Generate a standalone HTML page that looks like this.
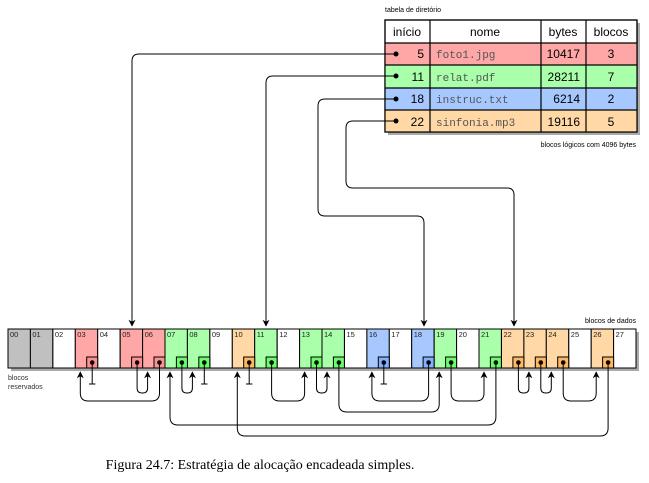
<!DOCTYPE html>
<html><head><meta charset="utf-8"><style>
html,body{margin:0;padding:0;background:#fff;}
svg{display:block;font-family:"Liberation Sans",sans-serif;}
</style></head><body>
<svg width="649" height="483" viewBox="0 0 649 483" xmlns="http://www.w3.org/2000/svg">
<defs>
<marker id="ah" viewBox="0 0 10 10" refX="9" refY="5" markerWidth="7" markerHeight="7" orient="auto" markerUnits="userSpaceOnUse">
<path d="M0,0 L10,5 L0,10 L3,5 Z" fill="#000"/>
</marker>
</defs>

<text x="385" y="12" font-size="7">tabela de diretório</text>
<rect x="388" y="23" width="252" height="112" fill="#aaa"/>
<rect x="385" y="20" width="252" height="112" fill="#fff" stroke="#000" stroke-width="1.2"/>
<rect x="385" y="43" width="252" height="22" fill="#ffa6a6"/>
<rect x="385" y="65" width="252" height="23" fill="#aaffaa"/>
<rect x="385" y="88" width="252" height="22" fill="#a6c8ff"/>
<rect x="385" y="110" width="252" height="22" fill="#ffd8a6"/>
<g stroke="#000" stroke-width="1.2" fill="none">
<rect x="385" y="20" width="252" height="112"/>
<line x1="385" y1="43" x2="637" y2="43"/>
<line x1="385" y1="65" x2="637" y2="65"/>
<line x1="385" y1="88" x2="637" y2="88"/>
<line x1="385" y1="110" x2="637" y2="110"/>
<line x1="430" y1="20" x2="430" y2="132"/>
<line x1="541" y1="20" x2="541" y2="132"/>
<line x1="586" y1="20" x2="586" y2="132"/>
</g>
<g font-size="12" text-anchor="middle">
<text x="407" y="36">início</text>
<text x="485" y="36">nome</text>
<text x="563" y="36">bytes</text>
<text x="611" y="36">blocos</text>
</g>
<g font-size="12" text-anchor="end">
<text x="424" y="58">5</text>
<text x="424" y="81">11</text>
<text x="424" y="103">18</text>
<text x="424" y="126">22</text>
<text x="580" y="58">10417</text>
<text x="580" y="81">28211</text>
<text x="580" y="103">6214</text>
<text x="580" y="126">19116</text>
</g>
<g font-size="12" text-anchor="middle">
<text x="611" y="58">3</text>
<text x="611" y="81">7</text>
<text x="611" y="103">2</text>
<text x="611" y="126">5</text>
</g>
<g font-size="11" font-family="Liberation Mono,monospace" fill="#555">
<text x="436" y="58">foto1.jpg</text>
<text x="436" y="81">relat.pdf</text>
<text x="436" y="103">instruc.txt</text>
<text x="436" y="126">sinfonia.mp3</text>
</g>
<text x="636" y="147" font-size="7" text-anchor="end">blocos lógicos com 4096 bytes</text>

<g fill="#000">
<circle cx="396" cy="54" r="2.5"/><circle cx="396" cy="76" r="2.5"/><circle cx="396" cy="99" r="2.5"/><circle cx="396" cy="121" r="2.5"/>
</g>
<g stroke="#000" stroke-width="1" fill="none" marker-end="url(#ah)">
<path d="M396,54 H139 Q132,54 132,61 V326"/>
<path d="M396,76 H273 Q266,76 266,83 V326"/>
<path d="M396,99 H325 Q318,99 318,106 V209 Q318,216 325,216 H417 Q424,216 424,223 V326"/>
<path d="M396,121 H353 Q346,121 346,128 V181 Q346,188 353,188 H507 Q514,188 514,195 V326"/>
</g>

<text x="636" y="323" font-size="7" text-anchor="end">blocos de dados</text>
<rect x="11" y="332" width="628" height="39" fill="#aaa"/>
<g stroke="#000" stroke-width="1">
<rect x="8" y="329" width="628" height="39" fill="#fff"/>
<rect x="8" y="329" width="22.4" height="39" fill="#c0c0c0"/>
<rect x="30.4" y="329" width="22.4" height="39" fill="#c0c0c0"/>
<rect x="52.9" y="329" width="22.4" height="39" fill="#fff"/>
<rect x="75.3" y="329" width="22.4" height="39" fill="#ffa6a6"/>
<rect x="97.7" y="329" width="22.4" height="39" fill="#fff"/>
<rect x="120.2" y="329" width="22.4" height="39" fill="#ffa6a6"/>
<rect x="142.6" y="329" width="22.4" height="39" fill="#ffa6a6"/>
<rect x="165" y="329" width="22.4" height="39" fill="#aaffaa"/>
<rect x="187.4" y="329" width="22.4" height="39" fill="#aaffaa"/>
<rect x="209.9" y="329" width="22.4" height="39" fill="#fff"/>
<rect x="232.3" y="329" width="22.4" height="39" fill="#ffd8a6"/>
<rect x="254.7" y="329" width="22.4" height="39" fill="#aaffaa"/>
<rect x="277.2" y="329" width="22.4" height="39" fill="#fff"/>
<rect x="299.6" y="329" width="22.4" height="39" fill="#aaffaa"/>
<rect x="322" y="329" width="22.4" height="39" fill="#aaffaa"/>
<rect x="344.5" y="329" width="22.4" height="39" fill="#fff"/>
<rect x="366.9" y="329" width="22.4" height="39" fill="#a6c8ff"/>
<rect x="389.3" y="329" width="22.4" height="39" fill="#fff"/>
<rect x="411.7" y="329" width="22.4" height="39" fill="#a6c8ff"/>
<rect x="434.2" y="329" width="22.4" height="39" fill="#aaffaa"/>
<rect x="456.6" y="329" width="22.4" height="39" fill="#fff"/>
<rect x="479" y="329" width="22.4" height="39" fill="#aaffaa"/>
<rect x="501.5" y="329" width="22.4" height="39" fill="#ffd8a6"/>
<rect x="523.9" y="329" width="22.4" height="39" fill="#ffd8a6"/>
<rect x="546.3" y="329" width="22.4" height="39" fill="#ffd8a6"/>
<rect x="568.8" y="329" width="22.4" height="39" fill="#fff"/>
<rect x="591.2" y="329" width="22.4" height="39" fill="#ffd8a6"/>
<rect x="613.6" y="329" width="22.4" height="39" fill="#fff"/>
</g>
<g font-size="7.5" fill="#222">
<text x="10" y="337">00</text><text x="32.4" y="337">01</text><text x="54.9" y="337">02</text><text x="77.3" y="337">03</text><text x="99.7" y="337">04</text><text x="122.2" y="337">05</text><text x="144.6" y="337">06</text><text x="167" y="337">07</text><text x="189.4" y="337">08</text><text x="211.9" y="337">09</text><text x="234.3" y="337">10</text><text x="256.7" y="337">11</text><text x="279.2" y="337">12</text><text x="301.6" y="337">13</text><text x="324" y="337">14</text><text x="346.5" y="337">15</text><text x="368.9" y="337">16</text><text x="391.3" y="337">17</text><text x="413.7" y="337">18</text><text x="436.2" y="337">19</text><text x="458.6" y="337">20</text><text x="481" y="337">21</text><text x="503.5" y="337">22</text><text x="525.9" y="337">23</text><text x="548.3" y="337">24</text><text x="570.8" y="337">25</text><text x="593.2" y="337">26</text><text x="615.6" y="337">27</text>
</g>
<g stroke="#000" stroke-width="1">
<rect x="86.7" y="357" width="11" height="11" fill="#ff9090"/>
<rect x="131.6" y="357" width="11" height="11" fill="#ff9090"/>
<rect x="154" y="357" width="11" height="11" fill="#ff9090"/>
<rect x="176.4" y="357" width="11" height="11" fill="#66ff66"/>
<rect x="198.8" y="357" width="11" height="11" fill="#66ff66"/>
<rect x="243.7" y="357" width="11" height="11" fill="#ffb860"/>
<rect x="266.1" y="357" width="11" height="11" fill="#66ff66"/>
<rect x="311" y="357" width="11" height="11" fill="#66ff66"/>
<rect x="333.4" y="357" width="11" height="11" fill="#66ff66"/>
<rect x="378.3" y="357" width="11" height="11" fill="#80b0ff"/>
<rect x="423.1" y="357" width="11" height="11" fill="#80b0ff"/>
<rect x="445.6" y="357" width="11" height="11" fill="#66ff66"/>
<rect x="490.4" y="357" width="11" height="11" fill="#66ff66"/>
<rect x="512.9" y="357" width="11" height="11" fill="#ffb860"/>
<rect x="535.3" y="357" width="11" height="11" fill="#ffb860"/>
<rect x="557.7" y="357" width="11" height="11" fill="#ffb860"/>
<rect x="602.6" y="357" width="11" height="11" fill="#ffb860"/>
</g>
<g fill="#000">
<circle cx="92.2" cy="362.5" r="2.3"/><circle cx="137.1" cy="362.5" r="2.3"/><circle cx="159.5" cy="362.5" r="2.3"/><circle cx="181.9" cy="362.5" r="2.3"/><circle cx="204.3" cy="362.5" r="2.3"/><circle cx="249.2" cy="362.5" r="2.3"/><circle cx="271.6" cy="362.5" r="2.3"/><circle cx="316.5" cy="362.5" r="2.3"/><circle cx="338.9" cy="362.5" r="2.3"/><circle cx="383.8" cy="362.5" r="2.3"/><circle cx="428.6" cy="362.5" r="2.3"/><circle cx="451.1" cy="362.5" r="2.3"/><circle cx="495.9" cy="362.5" r="2.3"/><circle cx="518.4" cy="362.5" r="2.3"/><circle cx="540.8" cy="362.5" r="2.3"/><circle cx="563.2" cy="362.5" r="2.3"/><circle cx="608.1" cy="362.5" r="2.3"/>
</g>
<g stroke="#000" stroke-width="1">
<path d="M92.2,362 V384 M89,384 H95.4"/>
<path d="M204.3,362 V384 M201.1,384 H207.5"/>
<path d="M249.2,362 V384 M246,384 H252.4"/>
<path d="M383.8,362 V384 M380.6,384 H387"/>
</g>
<text x="8" y="380" font-size="7" fill="#333">blocos</text>
<text x="8" y="389" font-size="7" fill="#333">reservados</text>

<g stroke="#000" stroke-width="1" fill="none" marker-end="url(#ah)">
<path d="M137.1,362 V388 Q137.1,393 142.1,393 H142.6 Q147.6,393 147.6,388 V372"/>
<path d="M159.5,362 V393 Q159.5,401 151.5,401 H88.3 Q80.3,401 80.3,393 V372"/>
<path d="M181.9,362 V388 Q181.9,393 186.9,393 H187.4 Q192.4,393 192.4,388 V372"/>
<path d="M271.6,362 V393 Q271.6,401 279.6,401 H296.6 Q304.6,401 304.6,393 V372"/>
<path d="M316.5,362 V388 Q316.5,393 321.5,393 H322 Q327,393 327,388 V372"/>
<path d="M338.9,362 V404 Q338.9,412 346.9,412 H431.2 Q439.2,412 439.2,404 V372"/>
<path d="M428.6,362 V393 Q428.6,401 420.6,401 H379.9 Q371.9,401 371.9,393 V372"/>
<path d="M451.1,362 V393 Q451.1,401 459.1,401 H476 Q484,401 484,393 V372"/>
<path d="M495.9,362 V417 Q495.9,425 487.9,425 H178 Q170,425 170,417 V372"/>
<path d="M518.4,362 V388 Q518.4,393 523.4,393 H523.9 Q528.9,393 528.9,388 V372"/>
<path d="M540.8,362 V388 Q540.8,393 545.8,393 H546.3 Q551.3,393 551.3,388 V372"/>
<path d="M563.2,362 V393 Q563.2,401 571.2,401 H588.2 Q596.2,401 596.2,393 V372"/>
<path d="M608.1,362 V428 Q608.1,436 600.1,436 H245.3 Q237.3,436 237.3,428 V372"/>
</g>

<text x="260" y="469" font-size="14" font-family="Liberation Serif,serif" text-anchor="middle">Figura 24.7: Estratégia de alocação encadeada simples.</text>
</svg>
</body></html>
